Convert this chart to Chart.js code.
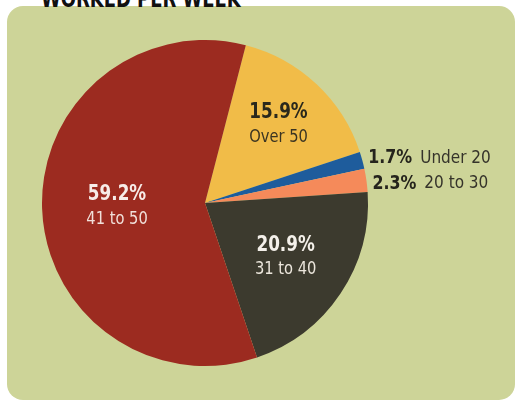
<!DOCTYPE html>
<html>
<head>
<meta charset="utf-8">
<script src="https://cdn.jsdelivr.net/npm/chart.js@4.4.1/dist/chart.umd.min.js"></script>
<style>
  html, body { margin: 0; padding: 0; background: #fff; }
  #wrap { position: relative; width: 520px; height: 402px; overflow: hidden; }
  #panel {
    position: absolute; left: 7px; top: 6px; width: 508px; height: 394px;
    background: #cdd498; border-radius: 16px;
  }
  #title {
    position: absolute; left: 41px; top: -15px;
    font: bold 24px "DejaVu Sans Condensed", sans-serif;
    color: #111; white-space: nowrap;
    transform: scaleX(0.83); transform-origin: left top;
  }
  canvas { position: absolute; left: 0; top: 0; }
</style>
</head>
<body>
<div id="wrap">
  <div id="panel"></div>
  <div id="title">WORKED PER WEEK</div>
  <canvas id="hoursChart" width="520" height="402"></canvas>
</div>
<script>
const categories = ['Over 50', 'Under 20', '20 to 30', '31 to 40', '41 to 50'];
const shares = [15.9, 1.7, 2.3, 20.9, 59.2];
const sliceColors = ['#f1bc48', '#1e5c9c', '#f58a5a', '#3c3a2e', '#9c2b20'];

document.addEventListener('DOMContentLoaded', function() {
    const ctx = document.getElementById('hoursChart').getContext('2d');
    const fontFam = '"DejaVu Sans Condensed", sans-serif';

    // label styling per slice: inside (r fraction) or outside
    const labelStyle = [
        { inside: true, r: 0.66, pct: '#2a281c', sub: '#3a3422' },
        { inside: false, dy: -2 },
        { inside: false, dy: 3 },
        { inside: true, r: 0.595, pct: '#f4f0ea', sub: '#ece6dc' },
        { inside: true, r: 0.54, pct: '#f7ece8', sub: '#f1e0da' }
    ];

    // draws text squeezed horizontally, returns drawn width
    function squeezed(c, text, x, y, sx) {
        c.save();
        c.translate(x, y);
        c.scale(sx, 1);
        c.fillText(text, 0, 0);
        const w = c.measureText(text).width * sx;
        c.restore();
        return w;
    }

    const sliceLabels = {
        id: 'sliceLabels',
        afterDatasetsDraw(chart) {
            const c = chart.ctx;
            const meta = chart.getDatasetMeta(0);
            c.save();
            c.textBaseline = 'middle';
            meta.data.forEach(function(arc, i) {
                const p = arc.getProps(['x', 'y', 'startAngle', 'endAngle', 'outerRadius'], true);
                const mid = (p.startAngle + p.endAngle) / 2;
                const st = labelStyle[i];
                const pct = shares[i].toFixed(1) + '%';
                if (st.inside) {
                    const x = p.x + Math.cos(mid) * p.outerRadius * st.r;
                    const y = p.y + Math.sin(mid) * p.outerRadius * st.r;
                    c.textAlign = 'center';
                    c.fillStyle = st.pct;
                    c.font = 'bold 22px ' + fontFam;
                    squeezed(c, pct, x, y - 12, 0.85);
                    c.fillStyle = st.sub;
                    c.font = '17px ' + fontFam;
                    squeezed(c, categories[i], x, y + 13, 0.96);
                } else {
                    const x = p.x + Math.cos(mid) * p.outerRadius + 6;
                    const y = p.y + Math.sin(mid) * p.outerRadius + st.dy;
                    c.textAlign = 'left';
                    c.fillStyle = '#25241c';
                    c.font = 'bold 20px ' + fontFam;
                    const w = squeezed(c, pct, x, y, 0.88);
                    c.fillStyle = '#35332a';
                    c.font = '17px ' + fontFam;
                    squeezed(c, categories[i], x + w + 8, y, 1.0);
                }
            });
            c.restore();
        }
    };

    new Chart(ctx, {
        type: 'pie',
        data: {
            labels: categories,
            datasets: [{
                data: shares,
                backgroundColor: sliceColors,
                borderWidth: 0
            }]
        },
        options: {
            responsive: false,
            animation: false,
            rotation: 14.5,
            layout: { padding: { left: 42, right: 152, top: 40, bottom: 36 } },
            plugins: {
                legend: { display: false },
                tooltip: { enabled: false }
            }
        },
        plugins: [sliceLabels]
    });
});
</script>
</body>
</html>
